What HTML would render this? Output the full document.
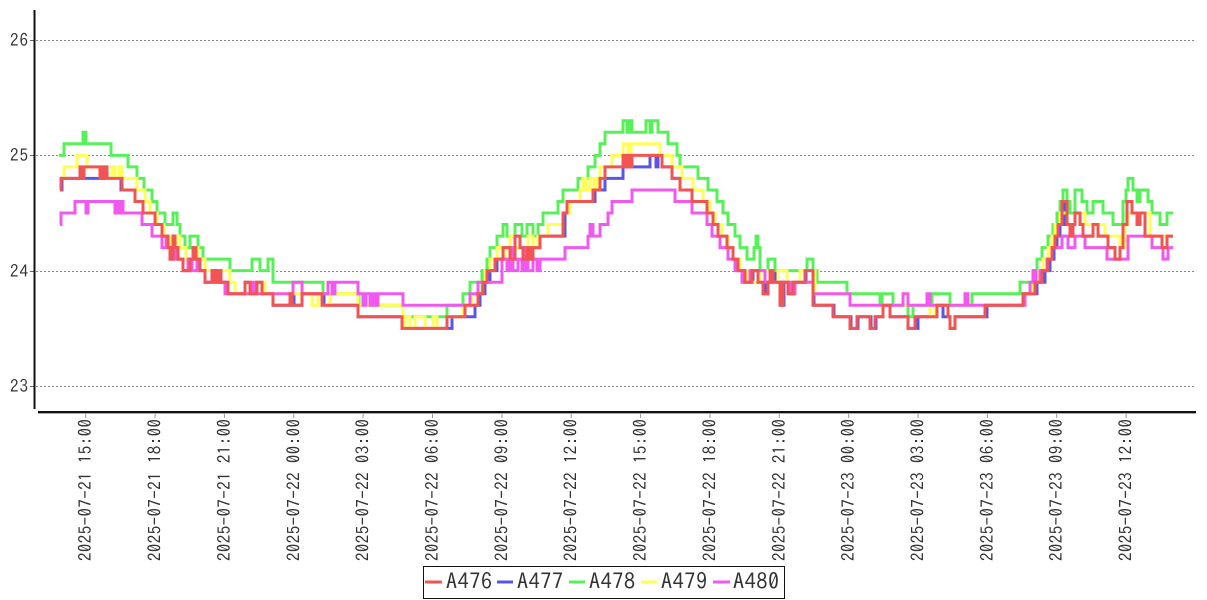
<!DOCTYPE html>
<html><head><meta charset="utf-8"><style>
html,body{margin:0;padding:0;background:#fff;}
svg{display:block;}
.t{font-family:"IPAGothic","Liberation Mono",monospace;fill:#333;white-space:pre;}
</style></head><body>
<svg width="1207" height="600" viewBox="0 0 1207 600" xmlns="http://www.w3.org/2000/svg">
<rect width="1207" height="600" fill="#fff"/>
<g stroke="#888" stroke-width="1" stroke-dasharray="2,2">
<line x1="36" y1="40.5" x2="1195" y2="40.5"/>
<line x1="36" y1="155.5" x2="1195" y2="155.5"/>
<line x1="36" y1="271.5" x2="1195" y2="271.5"/>
<line x1="36" y1="386.5" x2="1195" y2="386.5"/>
</g>
<g stroke="#666" stroke-width="1">
<line x1="30" y1="40.5" x2="34" y2="40.5"/>
<line x1="30" y1="155.5" x2="34" y2="155.5"/>
<line x1="30" y1="271.5" x2="34" y2="271.5"/>
<line x1="30" y1="386.5" x2="34" y2="386.5"/>
</g>
<g class="t" font-size="17" text-anchor="end">
<text x="28" y="46.5" textLength="18">26</text>
<text x="28" y="161.5" textLength="18">25</text>
<text x="28" y="277.5" textLength="18">24</text>
<text x="28" y="392.5" textLength="18">23</text>
</g>
<g transform="matrix(1,0,0,-11.5333,0,3038.67)" fill="none" stroke-width="3" stroke-linejoin="miter">
<path vector-effect="non-scaling-stroke" stroke="#5656ec" d="M60 247 H62 V248 H121 V247 H135 V246 H143 V245 H155 V244 H162 V243 H168 V242 H170 V241 H173 V243 H175 V242 H178 V241 H183 V240 H190 V241 H193 V242 H196 V241 H200 V240 H205 V239 H212 V240 H215 V239 H218 V240 H221 V239 H228 V238 H245 V239 H250 V238 H257 V239 H262 V238 H273 V237 H292 V238 H294 V237 H302 V238 H324 V237 H358 V236 H402 V235 H452 V236 H475 V237 H480 V238 H485 V239 H490 V240 H497 V241 H505 V242 H510 V241 H515 V243 H520 V242 H523 V241 H527 V242 H530 V241 H533 V242 H540 V243 H565 V245 H569 V246 H595 V247 H605 V248 H623 V249 H643 V249 H650 V250 H656 V249 H658 V250 H662 V249 H672 V248 H680 V247 H692 V246 H707 V245 H713 V244 H718 V243 H727 V242 H733 V241 H738 V240 H745 V239 H753 V240 H758 V239 H765 V238 H768 V239 H772 V240 H775 V239 H781 V237 H784 V239 H789 V238 H794 V239 H806 V240 H814 V237 H834 V236 H851 V235 H858 V236 H871 V235 H876 V236 H883 V237 H890 V236 H908 V235 H918 V236 H937 V237 H943 V236 H950 V235 H955 V236 H987 V237 H1023 V238 H1037 V239 H1045 V240 H1050 V241 H1054 V242 H1057 V243 H1060 V244 H1064 V246 H1067 V244 H1070 V243 H1073 V244 H1075 V245 H1080 V244 H1083 V243 H1093 V244 H1098 V243 H1108 V242 H1115 V241 H1120 V242 H1123 V244 H1127 V246 H1132 V245 H1137 V244 H1140 V245 H1145 V243 H1162 V242 H1167 V243 H1173"/>
<path vector-effect="non-scaling-stroke" stroke="#58f058" d="M59 250 H64 V251 H83 V252 H86 V251 H111 V250 H128 V249 H137 V248 H144 V247 H152 V246 H157 V245 H165 V244 H173 V245 H177 V244 H180 V243 H185 V242 H190 V243 H198 V242 H203 V241 H230 V240 H252 V241 H260 V240 H268 V241 H273 V239 H323 V238 H359 V237 H403 V236 H447 V237 H463 V238 H470 V239 H478 V238 H482 V240 H487 V241 H490 V242 H497 V243 H503 V244 H507 V243 H515 V244 H522 V243 H527 V244 H533 V243 H538 V244 H543 V245 H558 V246 H563 V247 H578 V248 H588 V249 H595 V250 H600 V251 H605 V252 H623 V253 H627 V252 H630 V253 H632 V252 H646 V253 H650 V252 H652 V253 H658 V252 H668 V251 H677 V250 H680 V249 H698 V248 H708 V247 H717 V246 H723 V245 H728 V244 H735 V243 H740 V242 H747 V241 H754 V242 H756 V243 H758 V242 H760 V240 H768 V241 H775 V240 H807 V241 H813 V240 H817 V239 H847 V238 H880 V237 H882 V238 H893 V237 H908 V236 H913 V237 H932 V238 H950 V237 H972 V238 H1020 V239 H1033 V240 H1037 V241 H1042 V242 H1048 V243 H1053 V244 H1057 V245 H1060 V246 H1063 V247 H1067 V246 H1070 V245 H1075 V247 H1082 V246 H1087 V245 H1093 V246 H1103 V245 H1113 V244 H1123 V246 H1126 V247 H1128 V248 H1133 V247 H1137 V246 H1140 V247 H1148 V246 H1152 V245 H1160 V244 H1167 V245 H1173"/>
<path vector-effect="non-scaling-stroke" stroke="#ffff58" d="M60 248 H64 V249 H77 V250 H87 V249 H107 V248 H112 V249 H115 V248 H119 V249 H122 V248 H137 V247 H145 V246 H150 V245 H157 V244 H164 V243 H170 V242 H176 V243 H180 V242 H186 V241 H193 V242 H198 V241 H205 V240 H212 V239 H218 V240 H230 V239 H235 V238 H250 V239 H265 V238 H312 V237 H318 V238 H322 V237 H330 V238 H358 V237 H403 V235 H405 V236 H410 V235 H415 V236 H425 V235 H433 V236 H437 V235 H447 V236 H463 V237 H472 V238 H478 V239 H485 V240 H490 V241 H497 V242 H505 V241 H510 V243 H515 V242 H525 V241 H528 V243 H533 V242 H538 V243 H548 V244 H557 V244 H563 V245 H570 V246 H580 V247 H583 V248 H586 V247 H590 V248 H594 V247 H597 V248 H600 V249 H612 V250 H623 V251 H628 V250 H631 V251 H660 V250 H672 V249 H682 V248 H693 V247 H703 V246 H710 V245 H715 V244 H722 V243 H728 V242 H733 V241 H740 V240 H747 V239 H760 V240 H773 V239 H778 V240 H787 V239 H800 V240 H815 V238 H850 V237 H930 V236 H935 V237 H1025 V238 H1033 V239 H1038 V240 H1043 V241 H1048 V242 H1052 V243 H1055 V244 H1060 V245 H1067 V244 H1075 V245 H1085 V244 H1105 V243 H1120 V242 H1125 V244 H1128 V245 H1150 V243 H1173"/>
<path vector-effect="non-scaling-stroke" stroke="#f058f0" d="M60 244 H61 V245 H75 V246 H86 V245 H88 V246 H115 V245 H117 V246 H119 V245 H121 V246 H123 V245 H142 V244 H152 V243 H162 V242 H166 V243 H168 V242 H172 V241 H176 V242 H178 V241 H183 V240 H188 V241 H192 V240 H197 V241 H200 V240 H205 V239 H212 V240 H215 V239 H225 V238 H253 V239 H256 V238 H293 V239 H302 V238 H328 V239 H332 V238 H335 V239 H358 V238 H363 V237 H366 V238 H370 V237 H373 V238 H376 V237 H378 V238 H403 V237 H470 V238 H478 V239 H502 V241 H507 V240 H510 V242 H513 V240 H518 V241 H522 V240 H525 V242 H528 V240 H533 V241 H537 V240 H540 V241 H565 V242 H588 V243 H590 V244 H593 V243 H600 V244 H608 V245 H612 V246 H632 V247 H675 V246 H692 V245 H707 V244 H712 V243 H720 V242 H728 V241 H735 V240 H742 V239 H750 V240 H765 V239 H790 V238 H795 V239 H813 V238 H850 V237 H903 V238 H908 V237 H927 V238 H930 V237 H965 V238 H968 V237 H1025 V238 H1030 V239 H1033 V240 H1036 V239 H1040 V240 H1047 V241 H1052 V242 H1062 V243 H1068 V242 H1075 V243 H1085 V242 H1107 V241 H1128 V243 H1152 V242 H1163 V241 H1168 V242 H1173"/>
<path vector-effect="non-scaling-stroke" stroke="#f25454" d="M60 247 H61 V248 H80 V249 H82 V248 H84 V249 H100 V248 H102 V249 H104 V248 H105 V249 H107 V248 H122 V247 H135 V246 H143 V245 H155 V244 H162 V243 H168 V242 H170 V241 H173 V243 H175 V242 H178 V241 H183 V240 H190 V241 H193 V242 H196 V241 H200 V240 H205 V239 H212 V240 H215 V239 H218 V240 H221 V239 H228 V238 H245 V239 H250 V238 H257 V239 H262 V238 H273 V237 H290 V238 H292 V237 H302 V238 H322 V237 H358 V236 H402 V235 H447 V236 H465 V237 H478 V238 H483 V239 H487 V240 H495 V241 H503 V242 H510 V241 H515 V243 H520 V242 H523 V241 H527 V242 H530 V241 H533 V242 H540 V243 H563 V245 H567 V246 H593 V247 H600 V248 H605 V249 H623 V250 H625 V249 H628 V250 H630 V249 H632 V250 H662 V249 H672 V248 H680 V247 H692 V246 H707 V245 H713 V244 H718 V243 H727 V242 H733 V241 H738 V240 H745 V239 H752 V240 H758 V239 H763 V238 H768 V239 H770 V240 H773 V239 H780 V237 H783 V239 H788 V238 H793 V239 H805 V240 H813 V237 H833 V236 H850 V235 H857 V236 H870 V235 H875 V236 H883 V237 H890 V236 H908 V235 H915 V236 H937 V237 H948 V236 H950 V235 H955 V236 H985 V237 H1023 V238 H1035 V239 H1042 V240 H1048 V241 H1052 V242 H1055 V243 H1058 V244 H1062 V246 H1067 V244 H1070 V243 H1073 V244 H1075 V245 H1080 V244 H1083 V243 H1093 V244 H1098 V243 H1108 V242 H1115 V241 H1120 V242 H1123 V244 H1127 V246 H1132 V245 H1137 V244 H1140 V245 H1145 V243 H1162 V242 H1167 V243 H1173"/>
</g>
<line x1="34.5" y1="10" x2="34.5" y2="409" stroke="#111" stroke-width="2"/>
<line x1="38" y1="412" x2="1196" y2="412" stroke="#111" stroke-width="2"/>
<line x1="38" y1="413.5" x2="1196" y2="413.5" stroke="#aaa" stroke-width="1"/>
<g stroke="#999" stroke-width="1">
<line x1="85.7" y1="413" x2="85.7" y2="418"/>
<line x1="155.1" y1="413" x2="155.1" y2="418"/>
<line x1="224.4" y1="413" x2="224.4" y2="418"/>
<line x1="293.8" y1="413" x2="293.8" y2="418"/>
<line x1="363.1" y1="413" x2="363.1" y2="418"/>
<line x1="432.5" y1="413" x2="432.5" y2="418"/>
<line x1="501.9" y1="413" x2="501.9" y2="418"/>
<line x1="571.2" y1="413" x2="571.2" y2="418"/>
<line x1="640.6" y1="413" x2="640.6" y2="418"/>
<line x1="709.9" y1="413" x2="709.9" y2="418"/>
<line x1="779.3" y1="413" x2="779.3" y2="418"/>
<line x1="848.7" y1="413" x2="848.7" y2="418"/>
<line x1="918.0" y1="413" x2="918.0" y2="418"/>
<line x1="987.4" y1="413" x2="987.4" y2="418"/>
<line x1="1056.7" y1="413" x2="1056.7" y2="418"/>
<line x1="1126.1" y1="413" x2="1126.1" y2="418"/>
</g>
<g class="t" font-size="17" text-anchor="end">
<text transform="translate(91.7,419) rotate(-90)" textLength="142">2025-07-21  15:00</text>
<text transform="translate(161.1,419) rotate(-90)" textLength="142">2025-07-21  18:00</text>
<text transform="translate(230.4,419) rotate(-90)" textLength="142">2025-07-21  21:00</text>
<text transform="translate(299.8,419) rotate(-90)" textLength="142">2025-07-22  00:00</text>
<text transform="translate(369.1,419) rotate(-90)" textLength="142">2025-07-22  03:00</text>
<text transform="translate(438.5,419) rotate(-90)" textLength="142">2025-07-22  06:00</text>
<text transform="translate(507.9,419) rotate(-90)" textLength="142">2025-07-22  09:00</text>
<text transform="translate(577.2,419) rotate(-90)" textLength="142">2025-07-22  12:00</text>
<text transform="translate(646.6,419) rotate(-90)" textLength="142">2025-07-22  15:00</text>
<text transform="translate(715.9,419) rotate(-90)" textLength="142">2025-07-22  18:00</text>
<text transform="translate(785.3,419) rotate(-90)" textLength="142">2025-07-22  21:00</text>
<text transform="translate(854.7,419) rotate(-90)" textLength="142">2025-07-23  00:00</text>
<text transform="translate(924.0,419) rotate(-90)" textLength="142">2025-07-23  03:00</text>
<text transform="translate(993.4,419) rotate(-90)" textLength="142">2025-07-23  06:00</text>
<text transform="translate(1062.7,419) rotate(-90)" textLength="142">2025-07-23  09:00</text>
<text transform="translate(1132.1,419) rotate(-90)" textLength="142">2025-07-23  12:00</text>
</g>
<rect x="423.5" y="566.5" width="361" height="32" fill="#fff" stroke="#111" stroke-width="1"/>
<g stroke-width="3">
<line x1="425" y1="582" x2="442" y2="582" stroke="#f25454"/>
<line x1="497" y1="582" x2="513" y2="582" stroke="#5656ec"/>
<line x1="569" y1="582" x2="585" y2="582" stroke="#58f058"/>
<line x1="641" y1="582" x2="657" y2="582" stroke="#ffff58"/>
<line x1="713" y1="582" x2="730" y2="582" stroke="#f058f0"/>
</g>
<g class="t" font-size="22">
<text x="446" y="589" textLength="46">A476</text>
<text x="517" y="589" textLength="46">A477</text>
<text x="589" y="589" textLength="46">A478</text>
<text x="661" y="589" textLength="46">A479</text>
<text x="733" y="589" textLength="46">A480</text>
</g>
</svg>
</body></html>
